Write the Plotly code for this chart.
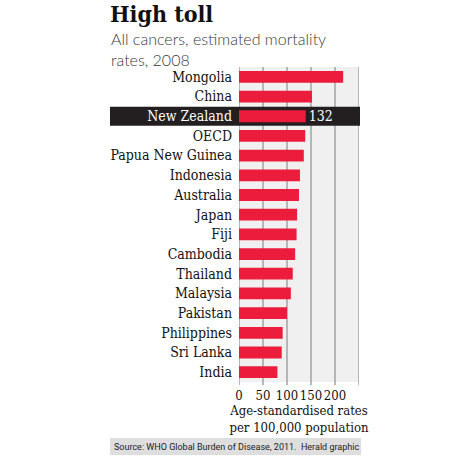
import plotly.graph_objects as go

# ---- data ----
countries = ["Mongolia", "China", "New Zealand", "OECD", "Papua New Guinea", "Indonesia",
             "Australia", "Japan", "Fiji", "Cambodia", "Thailand", "Malaysia", "Pakistan",
             "Philippines", "Sri Lanka", "India"]
rates = [217, 152, 139, 138, 135, 127, 125, 121, 120, 117, 112, 108, 100, 91, 89, 80]
highlight = "New Zealand"
highlight_label = "132"
tick_vals = [0, 50, 100, 150, 200]
grid_vals = [0, 50, 100, 150, 200, 250]

title = "High toll"
subtitle = "All cancers, estimated mortality<br>rates, 2008"
axis_title = "Age-standardised rates<br>per 100,000 population"
source = "Source: WHO Global Burden of Disease, 2011.  Herald graphic"

# ---- style ----
RED = "#ec1c3c"
BAND = "#231f20"
SERIF = "DejaVu Serif Condensed, DejaVu Serif, serif"
SANS_LIGHT = "Lato, Open Sans, sans-serif"
NARROW = "Liberation Sans Narrow, Roboto, sans-serif"

W, H = 460, 456
L, R, T, B = 239, 101, 67, 74
pw, ph = W - L - R, H - T - B


def px_x(px):
    return (px - L) / pw


def px_y(py):
    return (H - B - py) / ph


hi = countries.index(highlight)
texts = [highlight_label if c == highlight else "" for c in countries]
ticktext = [f'<span style="color:white">{c}</span>' if c == highlight else c for c in countries]

fig = go.Figure()
fig.add_trace(go.Bar(
    x=rates, y=countries, orientation="h",
    marker=dict(color=RED, line=dict(width=0)),
    width=0.6,
    text=texts, textposition="outside", constraintext="none",
    textfont=dict(color="white", size=14, family=SERIF),
    cliponaxis=False, hoverinfo="skip",
))

shapes = []
for v in grid_vals:
    shapes.append(dict(type="line", xref="x", yref="paper", x0=v, x1=v, y0=-0.01, y1=1,
                       line=dict(color="#a3a3a3", width=1.5), layer="below"))
shapes.append(dict(type="rect", xref="paper", yref="y", x0=px_x(110), x1=px_x(360),
                   y0=hi - 0.485, y1=hi + 0.485, fillcolor=BAND, line=dict(width=0),
                   layer="below"))
shapes.append(dict(type="rect", xref="paper", yref="paper", x0=px_x(110), x1=px_x(361),
                   y0=px_y(455), y1=px_y(438), fillcolor="#dedede", line=dict(width=0),
                   layer="below"))

annotations = [
    dict(text=f"<b>{title}</b>", xref="paper", yref="paper", x=px_x(108), y=px_y(-2),
         xanchor="left", yanchor="top", showarrow=False,
         font=dict(family=SERIF, size=23, color="#111")),
    dict(text=subtitle, xref="paper", yref="paper", x=px_x(109), y=px_y(27),
         xanchor="left", yanchor="top", showarrow=False, align="left",
         font=dict(family=SANS_LIGHT, size=16, color="#3a3a3a", weight=300)),
    dict(text=source, xref="paper", yref="paper", x=px_x(112), y=px_y(446.5),
         xanchor="left", yanchor="middle", showarrow=False,
         font=dict(family=NARROW, size=9, color="#222")),
]

fig.update_layout(
    width=W, height=H,
    margin=dict(l=L, r=R, t=T, b=B, pad=0),
    paper_bgcolor="white", plot_bgcolor="#f0f0f0",
    showlegend=False, bargap=0.4,
    shapes=shapes, annotations=annotations,
    xaxis=dict(range=[0, 250], tickvals=tick_vals, showgrid=False, zeroline=False,
               showline=False, ticks="", fixedrange=True, tickangle=0,
               ticklabelstandoff=4,
               tickfont=dict(family=SERIF, size=13, color="#111"),
               title=dict(text=axis_title, font=dict(family=SERIF, size=13, color="#111"),
                          standoff=2)),
    yaxis=dict(type="category", categoryorder="array", categoryarray=countries,
               autorange="reversed", tickvals=countries, ticktext=ticktext,
               showgrid=False, zeroline=False, showline=False, ticks="",
               ticklabelstandoff=6,
               tickfont=dict(family=SERIF, size=14, color="#111")),
)

fig.write_html("out.html")
